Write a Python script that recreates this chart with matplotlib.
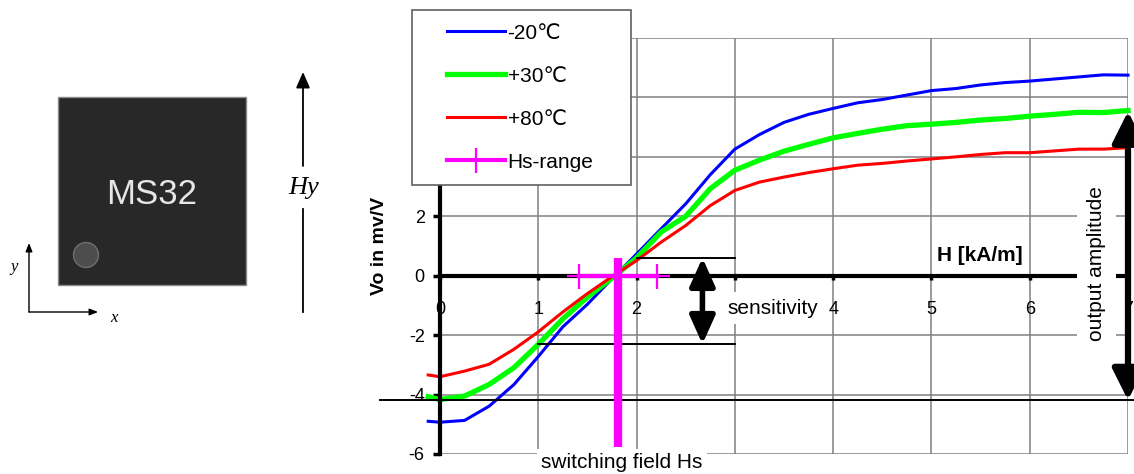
import matplotlib.pyplot as plt
from matplotlib.lines import Line2D
from matplotlib.legend_handler import HandlerLine2D
from matplotlib.patches import Rectangle, Circle

plt.rcParams['font.family'] = ['Liberation Sans', 'DejaVu Sans', 'Noto Sans CJK SC']
plt.rcParams['axes.unicode_minus'] = False

# --- data ---
# field H in kA/m
H = [-0.12, 0.0, 0.25, 0.5, 0.75, 1.0, 1.25, 1.5, 1.75, 2.0, 2.25, 2.5, 2.75, 3.0,
     3.25, 3.5, 3.75, 4.0, 4.25, 4.5, 4.75, 5.0, 5.25, 5.5, 5.75, 6.0, 6.25, 6.5,
     6.75, 7.0]
vo_m20 = [-4.90, -4.93, -4.87, -4.39, -3.67, -2.72, -1.72, -0.96, -0.10, 0.73,
          1.58, 2.42, 3.40, 4.26, 4.75, 5.16, 5.43, 5.63, 5.82, 5.93, 6.08, 6.23,
          6.30, 6.42, 6.50, 6.55, 6.62, 6.69, 6.76, 6.75]
vo_p30 = [-4.07, -4.17, -4.05, -3.66, -3.10, -2.31, -1.45, -0.72, -0.08, 0.60,
          1.47, 2.00, 2.93, 3.55, 3.89, 4.19, 4.42, 4.64, 4.79, 4.93, 5.05, 5.10,
          5.16, 5.24, 5.29, 5.37, 5.43, 5.50, 5.49, 5.56]
vo_p80 = [-3.34, -3.40, -3.21, -2.98, -2.48, -1.89, -1.22, -0.60, -0.03, 0.51,
          1.13, 1.69, 2.36, 2.87, 3.15, 3.32, 3.47, 3.60, 3.72, 3.78, 3.86, 3.93,
          4.00, 4.08, 4.14, 4.14, 4.20, 4.26, 4.26, 4.31]
series_labels = ['-20\u2103', '+30\u2103', '+80\u2103']

hs_range_x = [1.41, 2.21]
hs_range_y = [0.0, 0.0]
hs_x = 1.81
hs_top, hs_bottom = 0.6, -5.75

sens_x = 2.67
sens_top, sens_bottom = 0.6, -2.3
sens_top_span = [2.0, 3.0]
sens_bottom_span = [1.0, 3.0]

amp_x = 7.0
amp_top, amp_bottom = 5.53, -4.19
amp_line_span = [-0.61, 7.06]

xticks = [0, 1, 2, 3, 4, 5, 6, 7]
# "3" sits under the sensitivity label in the original
xtick_labels = ['0', '1', '2', '', '4', '5', '6', '7']
yticks = [-6, -4, -2, 0, 2, 4, 6, 8]

fig = plt.figure(figsize=(11.34, 4.74), dpi=100)

# --- sensor sketch on the left (pixel coords) ---
sk = fig.add_axes([0, 0, 1, 1])
sk.set_xlim(0, 1134)
sk.set_ylim(474, 0)
sk.axis('off')
sk.add_patch(Rectangle((58, 97), 188, 188, fc='#282828', ec='#8a8a8a', lw=1))
sk.add_patch(Circle((86, 255), 12.5, fc='#4d4d4d', ec='#707070', lw=1))
sk.text(152, 195, 'MS32', color='#e6e6e6', fontsize=25, ha='center', va='center')
arr = dict(arrowstyle='-|>,head_length=0.5,head_width=0.2', color='k', lw=1,
           shrinkA=0, shrinkB=0, mutation_scale=10)
sk.annotate('', xy=(29, 243), xytext=(29, 312), arrowprops=arr)
sk.annotate('', xy=(98, 312), xytext=(29, 312), arrowprops=arr)
sk.text(14, 267, 'y', fontsize=12, style='italic', family='Liberation Serif',
        ha='center', va='center')
sk.text(114, 318, 'x', fontsize=12, style='italic', family='Liberation Serif',
        ha='center', va='center')
sk.plot([303, 303], [312, 209], color='k', lw=1.3)
sk.annotate('', xy=(303, 72), xytext=(303, 166),
            arrowprops=dict(arrowstyle='-|>,head_length=0.8,head_width=0.35',
                            color='k', lw=1.3, shrinkA=0, shrinkB=0, mutation_scale=12))
sk.text(304, 188, 'Hy', fontsize=19, style='italic', family='Liberation Serif',
        ha='center', va='center')

# --- characteristic ---
ax = fig.add_axes([440 / 1134, 20 / 474, 688 / 1134, 416 / 474])
ax.plot(H, vo_m20, color='#0000ff', lw=2.2, label=series_labels[0], clip_on=False)
ax.plot(H, vo_p30, color='#00ff00', lw=3.8, label=series_labels[1], clip_on=False)
ax.plot(H, vo_p80, color='#ff0000', lw=2.2, label=series_labels[2], clip_on=False)
ax.plot(hs_range_x, hs_range_y, color='#ff00ff', lw=3, marker='+', ms=18, mew=1.6,
        label='Hs-range', zorder=4)
ax.plot([hs_x, hs_x], [hs_top, hs_bottom], color='#ff00ff', lw=6, zorder=4,
        solid_capstyle='butt', clip_on=False)

# sensitivity marks
ax.plot(sens_top_span, [sens_top, sens_top], color='k', lw=1.4)
ax.plot(sens_bottom_span, [sens_bottom, sens_bottom], color='k', lw=1.4)
ax.annotate('', xy=(sens_x, sens_top), xytext=(sens_x, sens_bottom),
            arrowprops=dict(arrowstyle='<|-|>,head_length=1.0,head_width=0.45',
                            color='k', lw=4, shrinkA=0, shrinkB=0, mutation_scale=17))
ax.text(2.92, -1.09, 'sensitivity', fontsize=15, ha='left', va='center', zorder=3,
        bbox=dict(boxstyle='square,pad=0.3', fc='white', ec='none'))

# output amplitude
ax.plot(amp_line_span, [amp_bottom, amp_bottom], color='k', lw=1.4, clip_on=False)
ax.text(6.68, 0.4, 'output amplitude', fontsize=15, rotation=90, ha='center',
        va='center', zorder=3,
        bbox=dict(boxstyle='square,pad=0.5', fc='white', ec='none'))
ax.annotate('', xy=(amp_x, amp_top), xytext=(amp_x, amp_bottom),
            arrowprops=dict(arrowstyle='<|-|>,head_length=1.0,head_width=0.5',
                            color='k', lw=4.5, shrinkA=0, shrinkB=0, mutation_scale=19,
                            clip_on=False), zorder=6)

ax.text(1.85, -6.29, 'switching field Hs', fontsize=15, ha='center', va='center',
        zorder=3, bbox=dict(boxstyle='square,pad=0.2', fc='white', ec='none'))
ax.text(5.49, 0.67, 'H [kA/m]', fontsize=15, fontweight='bold', ha='center',
        va='center')

ax.set_xlim(0, 7)
ax.set_ylim(-6, 8)
ax.set_xticks(xticks, xtick_labels)
ax.set_yticks(yticks)
ax.grid(True, color='#808080', lw=1.1)
for s in ['top', 'right']:
    ax.spines[s].set_visible(False)
ax.spines['left'].set_linewidth(3)
ax.spines['bottom'].set_position(('data', 0))
ax.spines['bottom'].set_linewidth(3)
ax.tick_params(axis='y', direction='out', length=5, width=2.5, pad=6, labelsize=13)
ax.tick_params(axis='x', direction='out', length=3, width=2.5, pad=15, labelsize=13)
ax.set_ylabel('Vo in mv/V', fontsize=14, fontweight='bold')
ax.yaxis.set_label_coords(-0.075, 0.5)

leg = ax.legend(loc='upper left', bbox_to_anchor=(-0.0407, 0.6, 0.318, 0.467),
                mode='expand', borderaxespad=0,
                fontsize=15, fancybox=False, edgecolor='#606060', framealpha=1,
                handlelength=3.82, handletextpad=0.12, labelspacing=1.15,
                borderpad=0.65,
                handler_map={Line2D: HandlerLine2D(xpad=1.03)})
leg.get_frame().set_linewidth(1.2)
leg.set_zorder(10)

fig.savefig('out.png', dpi=100)
